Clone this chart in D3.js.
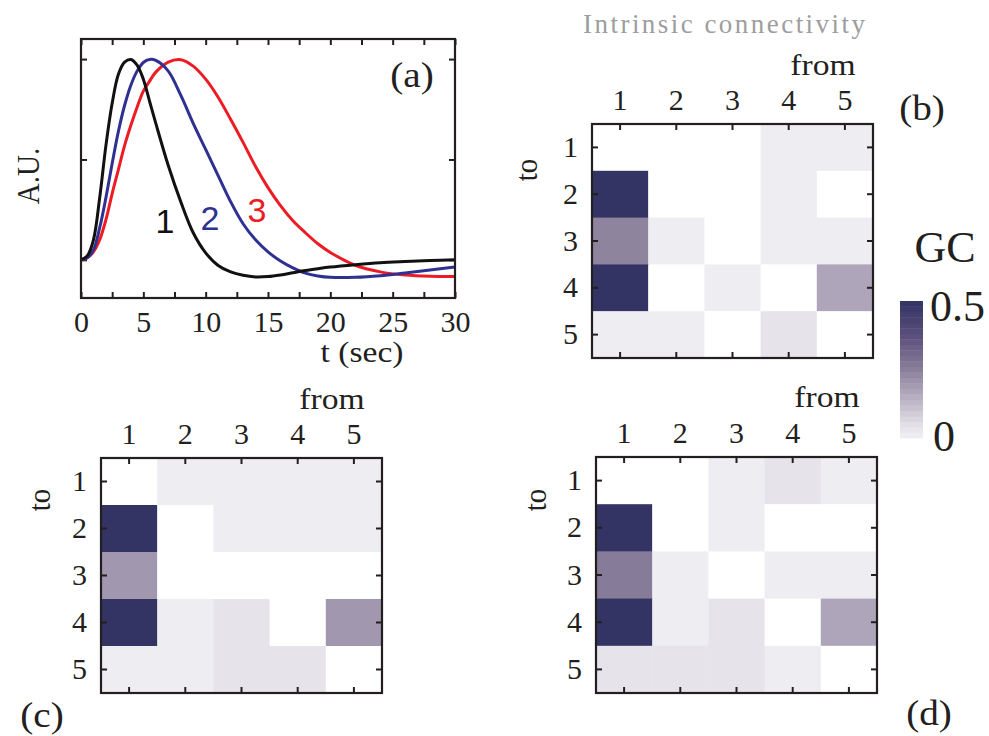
<!DOCTYPE html>
<html>
<head>
<meta charset="utf-8">
<script src="https://cdn.jsdelivr.net/npm/d3@7"></script>
<style>
  body { margin: 0; background: #fff; }
  svg { display: block; }
  .tick text { font-family: "Liberation Serif", "Times New Roman", serif; fill: #231f20; }
</style>
</head>
<body>
<svg id="fig" width="989" height="736"></svg>
<script>
// ---- (a) response curves ----
const tSec = [0, 0.5, 1, 1.5, 2, 2.5, 3, 3.5, 4, 4.5, 5, 5.5, 6,
  7, 8, 9, 10, 11, 12, 13, 14, 15, 16, 17, 18, 19, 20,
  22, 24, 26, 28, 30];
const hrf1 = [0, 0.02, 0.10, 0.31, 0.57, 0.78, 0.925, 0.985, 0.998, 0.97, 0.90, 0.79, 0.68,
  0.47, 0.29, 0.135, 0.035, -0.028, -0.06, -0.077, -0.085, -0.083, -0.075, -0.064, -0.053, -0.044, -0.036,
  -0.024, -0.014, -0.008, -0.003, 0];
const hrf2 = [0, 0.01, 0.05, 0.16, 0.31, 0.48, 0.64, 0.77, 0.87, 0.94, 0.983, 0.998, 0.993,
  0.94, 0.82, 0.68, 0.55, 0.42, 0.29, 0.18, 0.10, 0.04, -0.006, -0.04, -0.066, -0.08, -0.087,
  -0.087, -0.079, -0.065, -0.05, -0.036];
const hrf3 = [0, 0.01, 0.04, 0.10, 0.20, 0.33, 0.45, 0.57, 0.67, 0.76, 0.84, 0.89, 0.935,
  0.985, 0.997, 0.965, 0.90, 0.81, 0.70, 0.585, 0.465, 0.36, 0.27, 0.195, 0.135, 0.08, 0.037,
  -0.027, -0.06, -0.076, -0.082, -0.083];
const hrfNames = ['1', '2', '3'];
const xTicksA = d3.range(0, 30.01, 2.5);
const yTicksA = [0, 0.5, 1];

// ---- GC matrices: rows = "to", columns = "from" ----
const nodes = [1, 2, 3, 4, 5];
const gcIntrinsic = [
  [0, 0, 0, 0.01, 0.01],
  [0.5, 0, 0, 0.01, 0],
  [0.24, 0.01, 0, 0.01, 0.01],
  [0.5, 0, 0.01, 0, 0.17],
  [0.01, 0.01, 0, 0.04, 0]
];
const gcC = [
  [0, 0.01, 0.01, 0.01, 0.01],
  [0.5, 0, 0.01, 0.01, 0.01],
  [0.2, 0, 0, 0, 0],
  [0.5, 0.01, 0.04, 0, 0.2],
  [0.01, 0.01, 0.04, 0.04, 0]
];
const gcD = [
  [0, 0, 0.01, 0.04, 0.01],
  [0.5, 0, 0.01, 0, 0],
  [0.26, 0.01, 0, 0.01, 0.01],
  [0.5, 0.01, 0.04, 0, 0.17],
  [0.04, 0.04, 0.04, 0.01, 0]
];
const gcRange = [0, 0.5];

const ink = '#231f20';
const serif = '"Liberation Serif", "Times New Roman", serif';
const sans = '"Liberation Sans", Arial, sans-serif';
const lineColors = ['#111111', '#2e3192', '#ed1c24'];

const svg = d3.select('#fig');

// small helper, the figure's lettering is a bit wider than Times
function txt(g, x, y, s, o = {}) {
  const t = g.append('text')
    .attr('transform', `translate(${x},${y}) scale(${o.sx ?? 1.12},1)` + (o.rot ? ` rotate(${o.rot})` : ''))
    .attr('text-anchor', o.anchor || 'middle')
    .attr('font-family', o.family || serif)
    .attr('font-size', o.size || 30)
    .attr('fill', o.fill || ink)
    .text(s);
  if (o.len) t.attr('textLength', o.len).attr('lengthAdjust', 'spacing');
  return t;
}

function styleAxis(sel) {
  sel.select('.domain').remove();
  sel.selectAll('.tick line').attr('stroke', ink).attr('stroke-width', 2);
}

// ================= panel (a) =================
const boxA = { x: 81, y: 39, w: 374, h: 259 };
const gA = svg.append('g').attr('transform', `translate(${boxA.x},${boxA.y})`);
const xA = d3.scaleLinear().domain([0, 30]).range([0, boxA.w]);
const yA = d3.scaleLinear().domain([-0.19, 1.1]).range([boxA.h, 0]);

gA.append('g').attr('transform', `translate(0,${boxA.h})`)
  .call(d3.axisBottom(xA).tickValues(xTicksA).tickSize(-6).tickPadding(13)
    .tickFormat(d => d % 5 === 0 ? d : ''))
  .call(styleAxis)
  .call(g => g.selectAll('text').attr('font-size', 30));
gA.append('g')
  .call(d3.axisTop(xA).tickValues(xTicksA).tickSize(-6).tickFormat(''))
  .call(styleAxis);
gA.append('g')
  .call(d3.axisLeft(yA).tickValues(yTicksA).tickSize(-6).tickFormat(''))
  .call(styleAxis);
gA.append('g').attr('transform', `translate(${boxA.w},0)`)
  .call(d3.axisRight(yA).tickValues(yTicksA).tickSize(-6).tickFormat(''))
  .call(styleAxis);

const line = d3.line().x((d, i) => xA(tSec[i])).y(d => yA(d)).curve(d3.curveCatmullRom.alpha(0.5));
[hrf3, hrf2, hrf1].forEach((s, k) => {
  gA.append('path').datum(s)
    .attr('fill', 'none')
    .attr('stroke', lineColors[2 - k])
    .attr('stroke-width', 3)
    .attr('stroke-linejoin', 'round')
    .attr('d', line);
});

gA.append('rect').attr('width', boxA.w).attr('height', boxA.h)
  .attr('fill', 'none').attr('stroke', ink).attr('stroke-width', 2.2);

// curve numbers
const numPos = [[165, 233], [210, 230], [257, 222]];
hrfNames.forEach((n, i) => {
  txt(svg, numPos[i][0], numPos[i][1], n, { family: sans, size: 34, fill: lineColors[i], sx: 1 });
});

txt(svg, 362, 362, 't (sec)');
txt(svg, 39, 176, 'A.U.', { rot: -90, size: 29 });
txt(svg, 412, 87, '(a)', { size: 35 });

// ================= heat maps =================
const color = d3.scaleLinear()
  .domain([0, 0.04, 0.17, 0.25, 0.37, 0.5])
  .range(['#f1f1f4', '#e6e4ea', '#aea5ba', '#8a7f9a', '#5c507e', '#333464'])
  .clamp(true);
const cellColor = v => v === 0 ? '#ffffff' : color(v);

function heatmap(m, box) {
  const g = svg.append('g').attr('transform', `translate(${box.x},${box.y})`);
  const x = d3.scaleBand().domain(nodes).range([0, box.w]);
  const y = d3.scaleBand().domain(nodes).range([0, box.h]);

  m.forEach((row, r) => {
    g.selectAll(null).data(row).join('rect')
      .attr('x', (d, c) => x(nodes[c]))
      .attr('y', y(nodes[r]))
      .attr('width', x.bandwidth() + 0.5)
      .attr('height', y.bandwidth() + 0.5)
      .attr('fill', cellColor);
  });

  g.append('g')
    .call(d3.axisTop(x).tickSize(-6).tickPadding(14))
    .call(styleAxis)
    .call(s => s.selectAll('text').attr('font-size', 30));
  g.append('g').attr('transform', `translate(0,${box.h})`)
    .call(d3.axisBottom(x).tickSize(-6).tickFormat(''))
    .call(styleAxis);
  g.append('g')
    .call(d3.axisLeft(y).tickSize(-6).tickPadding(14))
    .call(styleAxis)
    .call(s => s.selectAll('text').attr('font-size', 30));
  g.append('g').attr('transform', `translate(${box.w},0)`)
    .call(d3.axisRight(y).tickSize(-6).tickFormat(''))
    .call(styleAxis);

  g.append('rect').attr('width', box.w).attr('height', box.h)
    .attr('fill', 'none').attr('stroke', ink).attr('stroke-width', 2.2);
}

heatmap(gcIntrinsic, { x: 592, y: 124, w: 281, h: 234 });
heatmap(gcC, { x: 101, y: 458, w: 281, h: 235 });
heatmap(gcD, { x: 596, y: 457, w: 281, h: 236 });

txt(svg, 724, 33, 'Intrinsic connectivity', { size: 27, fill: '#9d9d9f', sx: 1, len: 282 });
txt(svg, 823, 75, 'from');
txt(svg, 537, 170, 'to', { rot: -90, size: 29 });
txt(svg, 922, 120, '(b)', { size: 35 });

txt(svg, 332, 409, 'from');
txt(svg, 50, 500, 'to', { rot: -90, size: 29 });
txt(svg, 42, 727, '(c)', { size: 35 });

txt(svg, 827, 407, 'from');
txt(svg, 546, 500, 'to', { rot: -90, size: 29 });
txt(svg, 929, 725, '(d)', { size: 35 });

// ---- colour bar ----
const bar = { x: 900, y: 301, w: 23, h: 137, steps: 25 };
const yBar = d3.scaleLinear().domain(gcRange).range([bar.y + bar.h, bar.y]);
const gBar = svg.append('g');
const step = (gcRange[1] - gcRange[0]) / bar.steps;
gBar.selectAll('rect').data(d3.range(bar.steps)).join('rect')
  .attr('x', bar.x)
  .attr('y', i => yBar(gcRange[0] + (i + 1) * step))
  .attr('width', bar.w)
  .attr('height', i => yBar(gcRange[0] + i * step) - yBar(gcRange[0] + (i + 1) * step) + 0.4)
  .attr('fill', i => color(gcRange[0] + (i + 0.5) * step));

txt(svg, 945, 262, 'GC', { size: 44, sx: 1 });
txt(svg, 930, yBar(gcRange[1]) + 20, '0.5', { size: 44, sx: 1, anchor: 'start' });
txt(svg, 933, yBar(gcRange[0]) + 13, '0', { size: 44, sx: 1, anchor: 'start' });
</script>
</body>
</html>
